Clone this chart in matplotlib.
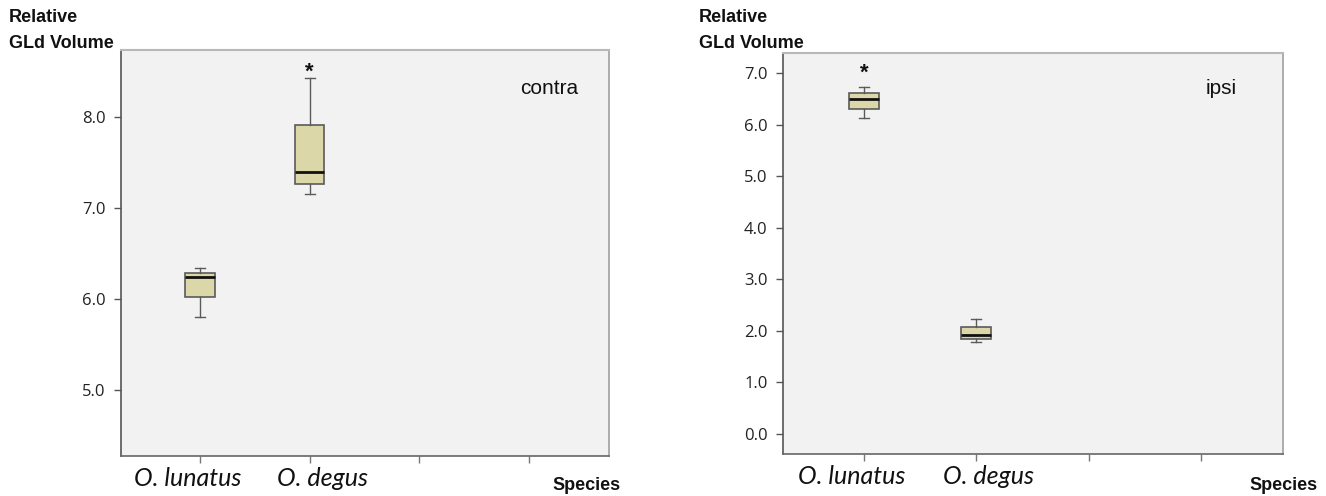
import matplotlib
matplotlib.use("Agg")
import matplotlib.pyplot as plt

# ---- data ----
categories = ["O. lunatus", "O. degus", "", ""]
species = ["O. lunatus", "O. degus"]

# contra: whisker low, Q1, median, Q3, whisker high
contra_wlo = [5.80, 7.15]
contra_q1 = [6.02, 7.27]
contra_med = [6.24, 7.40]
contra_q3 = [6.29, 7.91]
contra_whi = [6.34, 8.43]

# ipsi
ipsi_wlo = [6.12, 1.78]
ipsi_q1 = [6.30, 1.84]
ipsi_med = [6.49, 1.91]
ipsi_q3 = [6.62, 2.07]
ipsi_whi = [6.74, 2.23]

# significance star positions (None = no star)
contra_star = [None, 8.50]
ipsi_star = [7.00, None]

contra_ticks = [5.0, 6.0, 7.0, 8.0]
ipsi_ticks = [0.0, 1.0, 2.0, 3.0, 4.0, 5.0, 6.0, 7.0]

plt.rcParams['font.family'] = ['Liberation Sans', 'DejaVu Sans']

fig = plt.figure(figsize=(13.26, 4.96), dpi=100)

BOX_FACE = "#dcd7a8"
BOX_EDGE = "#5a5a5a"
BG = "#f2f2f2"
LABEL_SHIFT_PT = [-9, 9, 0, 0]


def make_panel(rect, wlo, q1, med, q3, whi, star, yticks, ylim, label, label_pos):
    ax = fig.add_axes(rect)
    ax.set_facecolor(BG)
    stats = []
    for i in range(len(species)):
        stats.append(dict(whislo=wlo[i], q1=q1[i], med=med[i], q3=q3[i],
                          whishi=whi[i], fliers=[], label=species[i]))
    ax.bxp(stats, positions=list(range(len(species))), widths=0.27,
           patch_artist=True, showfliers=False,
           boxprops=dict(facecolor=BOX_FACE, edgecolor=BOX_EDGE, linewidth=1.2),
           medianprops=dict(color="#111111", linewidth=2.0),
           whiskerprops=dict(color=BOX_EDGE, linewidth=1.0),
           capprops=dict(color=BOX_EDGE, linewidth=1.0),
           capwidths=0.09)
    for i, s in enumerate(star):
        if s is not None:
            ax.text(i, s, "*", ha="center", va="center", fontsize=16,
                    fontweight="bold", color="#111111")
    ax.set_xlim(-0.72, len(categories) - 1 + 0.73)
    ax.set_ylim(*ylim)
    ax.set_yticks(yticks)
    ax.set_yticklabels([f"{t:.1f}" for t in yticks], fontsize=12,
                       family=['Open Sans', 'DejaVu Sans'], color="#222222")
    ax.set_xticks(list(range(len(categories))))
    ax.set_xticklabels([""] * len(categories))
    for i, (cat, dx) in enumerate(zip(categories, LABEL_SHIFT_PT)):
        if cat:
            ax.annotate(cat, xy=(i, 0), xycoords=('data', 'axes fraction'),
                        xytext=(dx, -16), textcoords='offset points',
                        ha='center', va='center', fontsize=18,
                        family=['Lato', 'DejaVu Sans'], style='italic',
                        color="#111111", annotation_clip=False)
    ax.tick_params(axis='y', length=5, width=1, color="#555555", pad=6)
    ax.tick_params(axis='x', length=5, width=1, color="#777777", pad=4)
    ax.spines["top"].set_color("#b8b8b8")
    ax.spines["top"].set_linewidth(1.5)
    ax.spines["right"].set_color("#a0a0a0")
    ax.spines["right"].set_linewidth(1.2)
    ax.spines["left"].set_color("#555555")
    ax.spines["left"].set_linewidth(1.2)
    ax.spines["bottom"].set_color("#666666")
    ax.spines["bottom"].set_linewidth(1.2)
    ax.text(label_pos[0], label_pos[1], label, transform=ax.transAxes, fontsize=15,
            ha="left", va="center", color="#111111")
    return ax


W, H = 1326.0, 496.0
# left panel: x 121..609, y 50..456
axL = make_panel([121 / W, 1 - 456 / H, (609 - 121) / W, (456 - 50) / H],
                 contra_wlo, contra_q1, contra_med, contra_q3, contra_whi,
                 contra_star, contra_ticks, (4.27, 8.74), "contra", (0.818, 0.905))
# right panel: x 783..1283, y 53..454
axR = make_panel([783 / W, 1 - 454 / H, (1283 - 783) / W, (454 - 53) / H],
                 ipsi_wlo, ipsi_q1, ipsi_med, ipsi_q3, ipsi_whi,
                 ipsi_star, ipsi_ticks, (-0.39, 7.39), "ipsi", (0.845, 0.912))

for x0 in [9, 699]:
    fig.text(x0 / W, 1 - 18 / H, "Relative", fontsize=13, fontweight="bold",
             ha="left", va="center", color="#111111")
    fig.text(x0 / W, 1 - 44 / H, "GLd Volume", fontsize=13, fontweight="bold",
             ha="left", va="center", color="#111111")

for x1 in [621, 1318]:
    fig.text(x1 / W, 1 - 485 / H, "Species", fontsize=13, fontweight="bold",
             ha="right", va="center", color="#111111")

fig.savefig("out.png", dpi=100, facecolor="white")
